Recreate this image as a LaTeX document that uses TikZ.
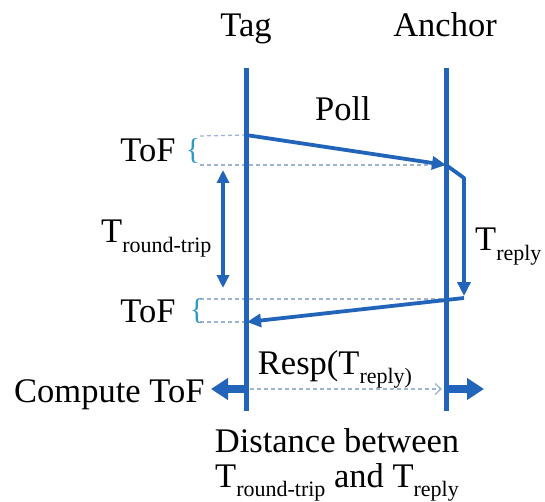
\documentclass[tikz,border=0pt]{standalone}
\usepackage{fontspec}
\setmainfont{Liberation Serif}
\usetikzlibrary{arrows.meta}
\definecolor{mainblue}{HTML}{2264BA}
\definecolor{bracecyan}{HTML}{2E9AC4}
\definecolor{guidegray}{HTML}{9FB3D6}
\newcommand{\sbt}[1]{\raisebox{-9.5pt}{\fontsize{22}{24}\selectfont #1}}
\begin{document}
\begin{tikzpicture}[x=1pt,y=-1pt,
  font=\fontsize{34.5}{38}\selectfont,
  life/.style={draw=mainblue,line width=5pt},
  msg/.style={draw=mainblue,line width=3.8pt,line join=round,-{Triangle[length=14pt,width=13pt]}},
  guide/.style={draw=guidegray,line width=1.3pt,dash pattern=on 4pt off 3pt},
  lbl/.style={inner sep=0pt},
  brc/.style={text=bracecyan,inner sep=0pt,font=\fontsize{30}{32}\selectfont},
  fat/.style={draw=mainblue,line width=8pt,-{Triangle[length=17pt,width=21pt]}},
  rtt/.style={draw=mainblue,line width=3.8pt,{Triangle[length=13pt,width=12pt]}-{Triangle[length=13pt,width=12pt]}}]
\useasboundingbox (0,0) rectangle (545,502);

% headings
\node[lbl,anchor=base] (tag) at (246,37) {Tag};
\node[lbl,anchor=base] (anchor) at (445,37) {Anchor};

% lifelines
\coordinate (tagTop) at (246,68);
\coordinate (tagBot) at (246,411);
\coordinate (anchTop) at (446,68);
\coordinate (anchBot) at (446,411);

% key points
\coordinate (pollS) at (246,135);
\coordinate (pollE) at (446,165);
\coordinate (bend) at (464,178);
\coordinate (replyEnd) at (464,296);
\coordinate (respS) at (464,298);
\coordinate (respE) at (247,322);

% guide (dashed) lines
\coordinate (g1a) at (200,136);
\coordinate (g1b) at (200,165);
\coordinate (g2a) at (200,299);
\coordinate (g2b) at (200,322);
\coordinate (g1e) at (440,165);
\draw[guide] (g1a) -- (pollS);
\draw[guide] (g1b) -- (g1e);
\draw[guide] (g2a) -- (respS |- g2a);
\draw[guide] (g2b) -- (respE);

\draw[life] (tagTop) -- (tagBot);
\draw[life] (anchTop) -- (anchBot);

% messages
\draw[msg] (pollS) -- (pollE);
\draw[msg] (pollE) -- (bend) -- (replyEnd);
\draw[msg] (respS) -- (respE);

\node[lbl,anchor=base] (poll) at (343,121) {Poll};
\node[lbl,anchor=base west] (treply) at (475,251) {T\sbt{reply}};
\node[lbl,anchor=base] (resp) at (335,374) {Resp(T\sbt{reply)}};

% ToF labels and braces
\node[lbl,anchor=base] (tof1) at (148,162) {ToF};
\node[lbl,anchor=base] (tof2) at (148,322) {ToF};
\node[brc] (br1) at (193,151) {\{};
\node[brc] (br2) at (197,311) {\{};

% round trip
\coordinate (rtTop) at (223,170);
\coordinate (rtBot) at (223,288);
\draw[rtt] (rtTop) -- (rtBot);
\node[lbl,anchor=base west] (tround) at (101,243) {T\sbt{round-trip}};

% compute row
\coordinate (cL) at (246,389);
\coordinate (cR) at (446,389);
\coordinate (cLt) at (211,389);
\coordinate (cRt) at (484,389);
\draw[fat] (cL) -- (cLt);
\draw[fat] (cR) -- (cRt);
\draw[guide,-{Straight Barb[length=6pt,width=11pt]}] (250,389) -- (442,389);
\node[lbl,anchor=base west] (compute) at (14,402) {Compute ToF};

% bottom caption
\node[lbl,anchor=base] (dist1) at (337,452) {Distance between};
\node[lbl,anchor=base west] (dist2) at (215,487) {T\sbt{round-trip} and T\sbt{reply}};
\end{tikzpicture}
\end{document}
